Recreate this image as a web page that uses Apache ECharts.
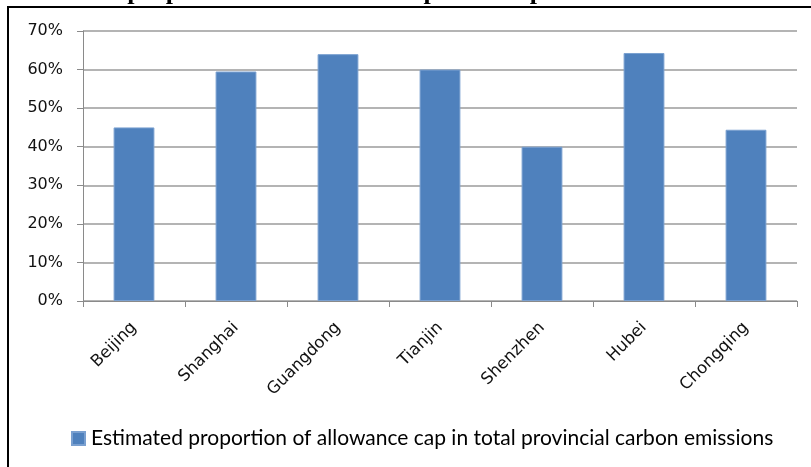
<!DOCTYPE html>
<html><head><meta charset="utf-8">
<script src="https://cdn.jsdelivr.net/npm/echarts@6/dist/echarts.min.js"></script>
<style>html,body{margin:0;padding:0;background:#fff;}#c{width:811px;height:467px;}</style>
</head><body><div id="c"></div>
<script>
const categories = ['Beijing','Shanghai','Guangdong','Tianjin','Shenzhen','Hubei','Chongqing'];
const values = [0.45, 0.595, 0.64, 0.60, 0.40, 0.643, 0.444];
const seriesName = 'Estimated proportion of allowance cap in total provincial carbon emissions';
const titleText = 'Estimated proportion of allowance cap in total provincial carbon emissions';
const yTicks = {min: 0, max: 0.7, interval: 0.1};

const chart = echarts.init(document.getElementById('c'), null, {renderer: 'canvas'});
chart.setOption({
  animation: false,
  backgroundColor: '#fff',
  graphic: [
    {type: 'rect', shape: {x: 8, y: 7, width: 900, height: 600}, style: {fill: 'none', stroke: '#000', lineWidth: 2}},
    {type: 'text', x: 8, y: 5, style: {text: titleText, font: 'bold 26px "Liberation Serif"', fill: '#000', verticalAlign: 'bottom'}}
  ],
  grid: {left: 83, right: 14, top: 31, bottom: 166},
  legend: {
    top: 423, left: 66, itemWidth: 13, itemHeight: 13, icon: 'rect', itemGap: 6,
    textStyle: {fontFamily: 'Lato', fontSize: 21, color: '#000', padding: [0, 0, 0, 1]},
    data: [seriesName]
  },
  xAxis: {
    type: 'category', data: categories,
    axisLine: {lineStyle: {color: '#8a8a8a', width: 1}},
    axisTick: {show: true, length: 6, lineStyle: {color: '#8a8a8a'}},
    axisLabel: {rotate: 45, fontFamily: '"DejaVu Sans"', fontSize: 16.5, color: '#111', margin: 24}
  },
  yAxis: {
    type: 'value', min: yTicks.min, max: yTicks.max, interval: yTicks.interval,
    axisLine: {show: true, lineStyle: {color: '#8a8a8a', width: 1}},
    axisTick: {show: true, length: 6, lineStyle: {color: '#8a8a8a'}},
    splitLine: {lineStyle: {color: '#b4b4b4', width: 2}},
    axisLabel: {fontFamily: '"DejaVu Sans"', fontSize: 16, color: '#111', margin: 20,
      formatter: v => Math.round(v * 100) + '%'}
  },
  series: [{
    name: seriesName, type: 'bar', data: values, barWidth: '40%',
    itemStyle: {color: '#4f81bd', borderColor: '#7aa0d0', borderWidth: 1}
  }]
});
</script></body></html>
